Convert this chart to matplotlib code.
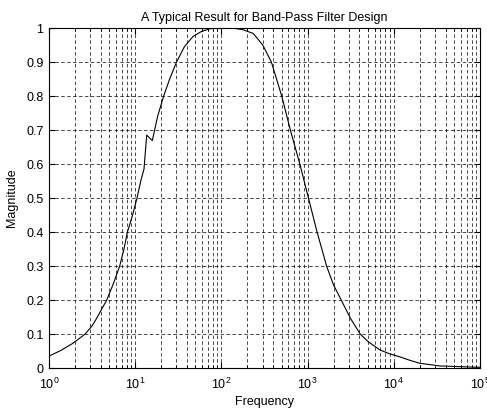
import matplotlib
matplotlib.use("Agg")
import matplotlib.pyplot as plt
import numpy as np

plt.rcParams['font.family'] = ['Liberation Sans', 'DejaVu Sans']
plt.rcParams['mathtext.fontset'] = 'custom'
plt.rcParams['mathtext.rm'] = 'Liberation Sans'
plt.rcParams['mathtext.it'] = 'Liberation Sans'

title = "A Typical Result for Band-Pass Filter Design"
xlabel = "Frequency"
ylabel = "Magnitude"

freq = [1, 1.38, 1.9, 2.63, 3.16, 3.55, 3.98, 4.68, 5.62, 6.61, 7.41, 8.13, 9.33,
        10.5, 11.6, 12.65, 13.6, 15.8, 18.2, 21.4, 25.1, 30.2, 37.2, 46.8, 58.9,
        74.1, 100, 135, 178, 234, 302, 380, 501, 631, 813, 1023, 1288, 1660,
        1995, 2455, 3162, 4074, 5012, 6918, 8913, 11750, 14790, 19950, 34670, 100000]
mag = [0.035, 0.052, 0.073, 0.10, 0.124, 0.145, 0.168, 0.20, 0.25, 0.30, 0.35, 0.40, 0.45,
       0.50, 0.55, 0.585, 0.685, 0.669, 0.74, 0.80, 0.85, 0.90, 0.945, 0.975, 0.99,
       0.998, 1.0, 1.0, 0.995, 0.984, 0.95, 0.90, 0.80, 0.70, 0.60, 0.50, 0.40, 0.30,
       0.245, 0.20, 0.145, 0.10, 0.078, 0.053, 0.042, 0.033, 0.024, 0.014, 0.006, 0.002]

yticks = [0, 0.1, 0.2, 0.3, 0.4, 0.5, 0.6, 0.7, 0.8, 0.9, 1]
ytick_labels = ["0", "0.1", "0.2", "0.3", "0.4", "0.5", "0.6", "0.7", "0.8", "0.9", "1"]

fig = plt.figure(figsize=(4.87, 4.09), dpi=100)
ax = fig.add_axes([0.1006, 0.1002, 0.8850, 0.8313])
ax.semilogx(freq, mag, color='black', linewidth=0.8)
ax.set_xlim(1, 1e5)
ax.set_ylim(0, 1)
ax.set_yticks(yticks)
ax.set_yticklabels(ytick_labels)
dash = (0, (5, 3.5))
ax.grid(True, which='major', linestyle=dash, color='black', linewidth=0.5)
ax.grid(True, which='minor', axis='x', linestyle=dash, color='black', linewidth=0.5)
ax.tick_params(which='both', direction='in', top=True, right=True, labelsize=9)
ax.tick_params(axis='y', pad=4)
ax.tick_params(axis='x', pad=6)
ax.tick_params(which='major', length=4)
ax.tick_params(which='minor', length=2)
for s in ax.spines.values():
    s.set_linewidth(0.8)
ax.set_title(title, fontsize=9, pad=5)
ax.set_xlabel(xlabel, fontsize=9, labelpad=3)
ax.set_ylabel(ylabel, fontsize=9, labelpad=6)
fig.savefig("out.png", dpi=100)
